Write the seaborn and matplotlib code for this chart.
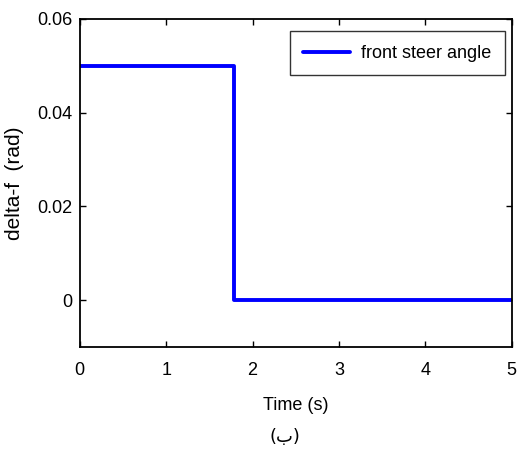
import matplotlib
matplotlib.use('Agg')
import matplotlib.pyplot as plt
import seaborn as sns
import pandas as pd

sns.set_style('white')
plt.rcParams['font.family'] = ['Liberation Sans', 'DejaVu Sans']
plt.rcParams['text.color'] = 'black'
plt.rcParams['axes.labelcolor'] = 'black'
plt.rcParams['xtick.color'] = 'black'
plt.rcParams['ytick.color'] = 'black'

# step input: front steer angle
time_s = [0, 1.78, 5]
delta_f = [0.05, 0.0, 0.0]
xticks = [0, 1, 2, 3, 4, 5]
yticks = [0, 0.02, 0.04, 0.06]

df = pd.DataFrame({'Time (s)': time_s, 'delta': delta_f})

fig = plt.figure(figsize=(5.18, 4.5), dpi=100)
ax = fig.add_axes([0.154, 0.229, 0.834, 0.729])
sns.lineplot(data=df, x='Time (s)', y='delta', ax=ax, color='#0000ff',
             linewidth=2.8, drawstyle='steps-post', label='front steer angle')

ax.set_xlim(0, 5)
ax.set_ylim(-0.01, 0.06)
ax.set_xticks(xticks)
ax.set_yticks(yticks)
ax.set_xticklabels([str(v) for v in xticks])
ax.set_yticklabels(['0', '0.02', '0.04', '0.06'])
ax.tick_params(direction='in', length=4, width=1, labelsize=13, top=True, right=True,
               bottom=True, left=True)
ax.tick_params(axis='x', pad=11)
ax.tick_params(axis='y', pad=5)
for s in ax.spines.values():
    s.set_linewidth(1.3)
    s.set_color('black')

ax.set_xlabel('Time (s)', fontsize=13, labelpad=13)
ax.set_ylabel('delta-f  (rad)', fontsize=15, labelpad=10)

leg = ax.legend(loc='upper right', bbox_to_anchor=(0.984, 0.962), fontsize=13,
                frameon=True, fancybox=False, handlelength=2.6, borderaxespad=0,
                borderpad=0.75, handletextpad=0.6)
leg.get_frame().set_edgecolor('black')
leg.get_frame().set_linewidth(1.0)

fig.text(0.55, 0.028, '(ب)', ha='center', va='center', fontsize=13,
         family=['DejaVu Sans'])

fig.savefig('out.png', dpi=100)
